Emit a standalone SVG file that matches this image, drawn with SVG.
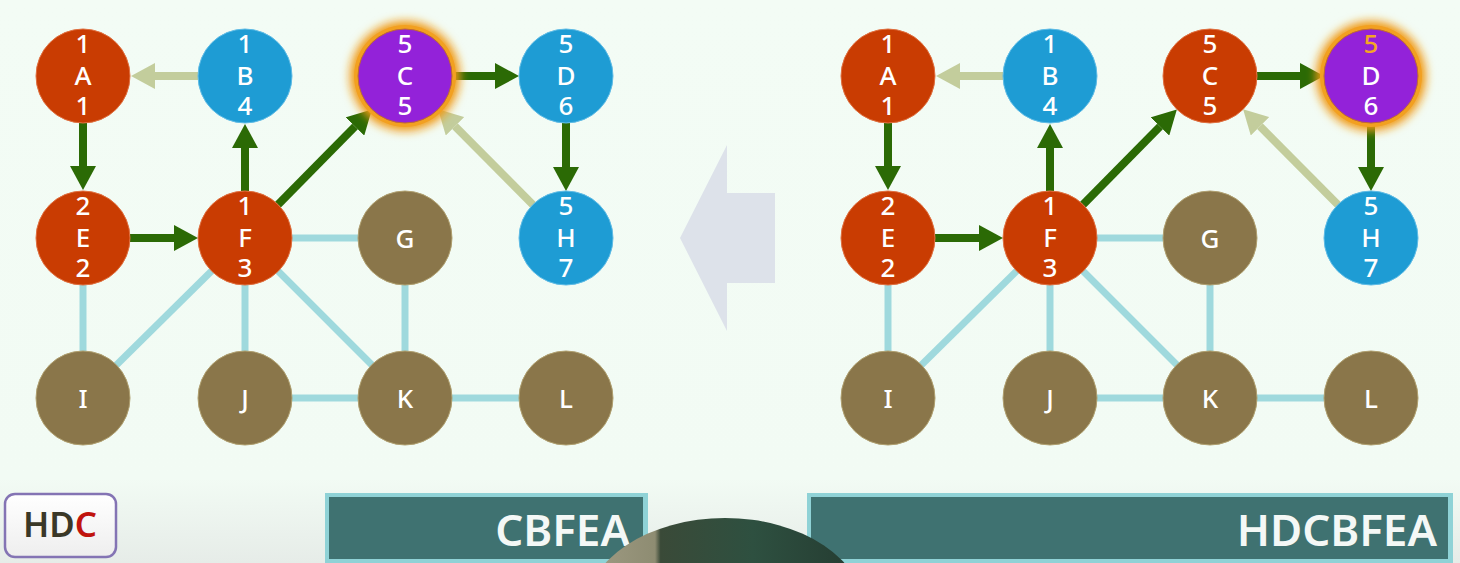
<svg xmlns="http://www.w3.org/2000/svg" width="1460" height="563" viewBox="0 0 1460 563">
<defs>
<style>
.red{fill:#c93c02;stroke:#e07040;stroke-width:1}
.blue{fill:#1e9cd4;stroke:#60bce6;stroke-width:1}
.purple{fill:#9322d9;stroke:#c06a30;stroke-width:1}
.brown{fill:#8a764a;stroke:#b0a070;stroke-width:1}
.lbl{font-family:"Noto Sans","Open Sans",sans-serif;font-size:26px;font-weight:500;fill:#ffffff;text-anchor:middle}
.edge{stroke:#9fd9dd;stroke-width:7;fill:none}
.g{stroke:#2b6a05;stroke-width:8;fill:none;marker-end:url(#ag)}
.o{stroke:#c3cd9c;stroke-width:8;fill:none;marker-end:url(#ao)}
.ban{font-family:"Noto Sans","Open Sans",sans-serif;font-size:44px;font-weight:600;fill:#f4f8f6;text-anchor:end}
</style>
<marker id="ag" markerUnits="userSpaceOnUse" markerWidth="24" markerHeight="26" refX="0" refY="13" orient="auto" viewBox="0 0 24 26"><path d="M0,0 L24,13 L0,26 z" fill="#2b6a05"/></marker>
<marker id="ao" markerUnits="userSpaceOnUse" markerWidth="24" markerHeight="26" refX="0" refY="13" orient="auto" viewBox="0 0 24 26"><path d="M0,0 L24,13 L0,26 z" fill="#c3cd9c"/></marker>
<filter id="glow" x="-50%" y="-50%" width="200%" height="200%"><feGaussianBlur stdDeviation="5"/></filter>
<linearGradient id="bg" x1="0" y1="0" x2="0" y2="1"><stop offset="0" stop-color="#f3fcf5"/><stop offset="0.85" stop-color="#f2fbf4"/><stop offset="1" stop-color="#e6ece8"/></linearGradient>
<linearGradient id="hdc" x1="0" y1="0" x2="0" y2="1"><stop offset="0" stop-color="#ffffff"/><stop offset="1" stop-color="#eeeeee"/></linearGradient>
<linearGradient id="obj" x1="0" y1="0" x2="1" y2="0"><stop offset="0" stop-color="#a09c84"/><stop offset="0.25" stop-color="#8e8c72"/><stop offset="0.27" stop-color="#3a4a38"/><stop offset="0.6" stop-color="#2e5040"/><stop offset="1" stop-color="#243a30"/></linearGradient>
<g id="graphEdges">
<line class="edge" x1="83" y1="238" x2="83" y2="398"/>
<line class="edge" x1="245" y1="238" x2="83" y2="398"/>
<line class="edge" x1="245" y1="238" x2="245" y2="398"/>
<line class="edge" x1="245" y1="238" x2="405" y2="238"/>
<line class="edge" x1="245" y1="238" x2="405" y2="398"/>
<line class="edge" x1="405" y1="238" x2="405" y2="398"/>
<line class="edge" x1="245" y1="398" x2="405" y2="398"/>
<line class="edge" x1="405" y1="398" x2="566" y2="398"/>
<line class="g" x1="83" y1="123" x2="83" y2="166"/>
<line class="g" x1="130" y1="238" x2="174" y2="238"/>
<line class="g" x1="245" y1="191" x2="245" y2="148"/>
<line class="g" x1="278" y1="204.6" x2="355" y2="126.5"/>
<line class="g" x1="452" y1="76" x2="495" y2="76"/>
<line class="g" x1="566" y1="123" x2="566" y2="167"/>
<line class="o" x1="198" y1="76" x2="155" y2="76"/>
<line class="o" x1="532.9" y1="204.7" x2="455" y2="126.3"/>
</g>
</defs>
<rect width="1460" height="563" fill="url(#bg)"/>

<g id="connectors">
<use href="#graphEdges"/>
<use href="#graphEdges" transform="translate(805,0)"/>
</g>

<!-- left graph -->
<g id="L-A"><circle class="red" cx="83" cy="76" r="47"/><text class="lbl" x="83" y="53">1</text><text class="lbl" x="83" y="85">A</text><text class="lbl" x="83" y="115">1</text></g>
<g id="L-B"><circle class="blue" cx="245" cy="76" r="47"/><text class="lbl" x="245" y="53">1</text><text class="lbl" x="245" y="85">B</text><text class="lbl" x="245" y="115">4</text></g>
<g id="L-C"><circle cx="405" cy="76" r="55" fill="#f09a14" filter="url(#glow)"/><circle cx="405" cy="76" r="51" fill="#f2a020"/><circle class="purple" cx="405" cy="76" r="47"/><text class="lbl" x="405" y="53">5</text><text class="lbl" x="405" y="85">C</text><text class="lbl" x="405" y="115">5</text></g>
<g id="L-D"><circle class="blue" cx="566" cy="76" r="47"/><text class="lbl" x="566" y="53">5</text><text class="lbl" x="566" y="85">D</text><text class="lbl" x="566" y="115">6</text></g>
<g id="L-E"><circle class="red" cx="83" cy="238" r="47"/><text class="lbl" x="83" y="215">2</text><text class="lbl" x="83" y="247">E</text><text class="lbl" x="83" y="277">2</text></g>
<g id="L-F"><circle class="red" cx="245" cy="238" r="47"/><text class="lbl" x="245" y="215">1</text><text class="lbl" x="245" y="247">F</text><text class="lbl" x="245" y="277">3</text></g>
<g id="L-G"><circle class="brown" cx="405" cy="238" r="47"/><text class="lbl" x="405" y="248">G</text></g>
<g id="L-H"><circle class="blue" cx="566" cy="238" r="47"/><text class="lbl" x="566" y="215">5</text><text class="lbl" x="566" y="247">H</text><text class="lbl" x="566" y="277">7</text></g>
<g id="L-I"><circle class="brown" cx="83" cy="398" r="47"/><text class="lbl" x="83" y="408">I</text></g>
<g id="L-J"><circle class="brown" cx="245" cy="398" r="47"/><text class="lbl" x="245" y="408">J</text></g>
<g id="L-K"><circle class="brown" cx="405" cy="398" r="47"/><text class="lbl" x="405" y="408">K</text></g>
<g id="L-L"><circle class="brown" cx="566" cy="398" r="47"/><text class="lbl" x="566" y="408">L</text></g>

<!-- right graph -->
<g id="R-A"><circle class="red" cx="888" cy="76" r="47"/><text class="lbl" x="888" y="53">1</text><text class="lbl" x="888" y="85">A</text><text class="lbl" x="888" y="115">1</text></g>
<g id="R-B"><circle class="blue" cx="1050" cy="76" r="47"/><text class="lbl" x="1050" y="53">1</text><text class="lbl" x="1050" y="85">B</text><text class="lbl" x="1050" y="115">4</text></g>
<g id="R-C"><circle class="red" cx="1210" cy="76" r="47"/><text class="lbl" x="1210" y="53">5</text><text class="lbl" x="1210" y="85">C</text><text class="lbl" x="1210" y="115">5</text></g>
<g id="R-D"><circle cx="1371" cy="76" r="55" fill="#f09a14" filter="url(#glow)"/><circle cx="1371" cy="76" r="51" fill="#f2a020"/><circle class="purple" cx="1371" cy="76" r="47"/><text class="lbl" x="1371" y="53" style="fill:#f5a623">5</text><text class="lbl" x="1371" y="85">D</text><text class="lbl" x="1371" y="115">6</text></g>
<g id="R-E"><circle class="red" cx="888" cy="238" r="47"/><text class="lbl" x="888" y="215">2</text><text class="lbl" x="888" y="247">E</text><text class="lbl" x="888" y="277">2</text></g>
<g id="R-F"><circle class="red" cx="1050" cy="238" r="47"/><text class="lbl" x="1050" y="215">1</text><text class="lbl" x="1050" y="247">F</text><text class="lbl" x="1050" y="277">3</text></g>
<g id="R-G"><circle class="brown" cx="1210" cy="238" r="47"/><text class="lbl" x="1210" y="248">G</text></g>
<g id="R-H"><circle class="blue" cx="1371" cy="238" r="47"/><text class="lbl" x="1371" y="215">5</text><text class="lbl" x="1371" y="247">H</text><text class="lbl" x="1371" y="277">7</text></g>
<g id="R-I"><circle class="brown" cx="888" cy="398" r="47"/><text class="lbl" x="888" y="408">I</text></g>
<g id="R-J"><circle class="brown" cx="1050" cy="398" r="47"/><text class="lbl" x="1050" y="408">J</text></g>
<g id="R-K"><circle class="brown" cx="1210" cy="398" r="47"/><text class="lbl" x="1210" y="408">K</text></g>
<g id="R-L"><circle class="brown" cx="1371" cy="398" r="47"/><text class="lbl" x="1371" y="408">L</text></g>

<!-- big left arrow -->
<polygon points="680,238 727,145 727,193 775,193 775,283 727,283 727,331" fill="#dde2ea"/>

<!-- HDC box -->
<g id="hdcbox">
<rect x="5" y="494" width="111" height="63" rx="10" fill="url(#hdc)" stroke="#8474b4" stroke-width="2.5"/>
<text x="60" y="537" font-family="'Noto Sans','Open Sans',sans-serif" font-size="35" font-weight="600" text-anchor="middle" textLength="74" lengthAdjust="spacingAndGlyphs" fill="#3a3828">HD<tspan fill="#c0140e">C</tspan></text>
</g>

<!-- banners -->
<g id="banner-left">
<rect x="325" y="493" width="323" height="70" fill="#8fd2d6"/>
<rect x="329" y="497" width="314" height="62" fill="#3f7271"/>
<text class="ban" x="630" y="546">CBFEA</text>
</g>
<g id="banner-right">
<rect x="807" y="493" width="646" height="70" fill="#8fd2d6"/>
<rect x="811" y="497" width="637" height="62" fill="#3f7271"/>
<text class="ban" x="1437" y="546">HDCBFEA</text>
</g>

<!-- object at bottom -->
<ellipse cx="725" cy="612" rx="140" ry="94" fill="url(#obj)"/>
</svg>
